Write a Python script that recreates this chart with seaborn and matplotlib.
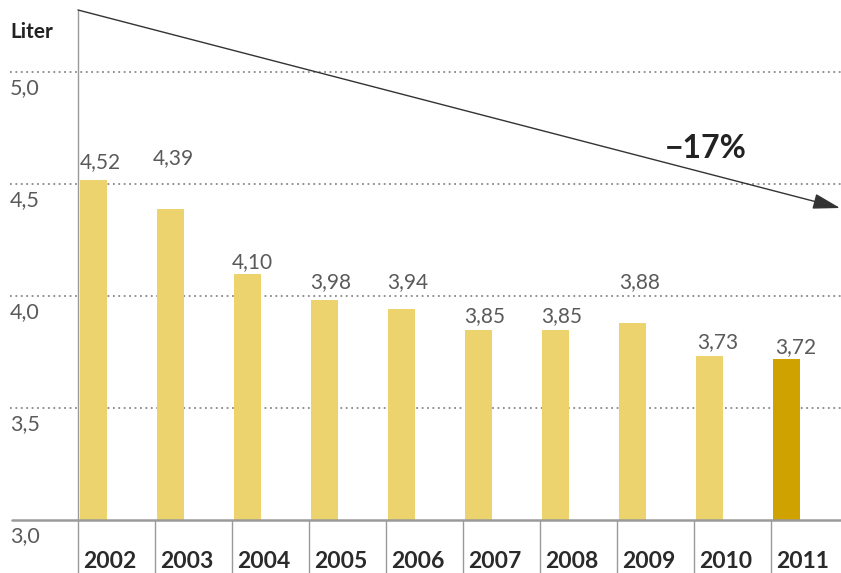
import matplotlib
matplotlib.use("Agg")
import matplotlib.pyplot as plt
import seaborn as sns
import pandas as pd

# ---- data ----
years = ["2002", "2003", "2004", "2005", "2006", "2007", "2008", "2009", "2010", "2011"]
liters = [4.52, 4.39, 4.10, 3.98, 3.94, 3.85, 3.85, 3.88, 3.73, 3.72]
value_labels = ["4,52", "4,39", "4,10", "3,98", "3,94", "3,85", "3,85", "3,88", "3,73", "3,72"]
ytick_values = [3.0, 3.5, 4.0, 4.5, 5.0]
ytick_labels = ["3,0", "3,5", "4,0", "4,5", "5,0"]
unit_label = "Liter"
change_label = "\u221217%"

# ---- layout / style ----
W, H = 841, 573
PX_PER_UNIT = 224.0       # vertical pixels per liter
SLOT_PX = 77.0            # horizontal pixels per year slot
BASE_PX = 520.0           # pixel row of the 3.0 baseline
LEFT_PX = 78.0            # pixel column of first slot edge
SLOT_OFF = 0.2            # slot left edge relative to bar center
label_lift = [0.078, 0.226, 0.052, 0.083, 0.123, 0.061, 0.061, 0.183, 0.065, 0.052]
label_dx_px = [2, -2, 0, 1, 1, 1, 1, 2, 3, 4]
light = "#EDD36E"
dark = "#CFA200"
grey_text = "#5a5a5a"
line_grey = "#9a9a9a"

def px_to_x(px):
    return -SLOT_OFF + (px - LEFT_PX) / SLOT_PX

def py_to_y(py):
    return 3.0 + (BASE_PX - py) / PX_PER_UNIT

sns.set_theme(style="white")
plt.rcParams["font.family"] = ["Lato", "DejaVu Sans"]

fig = plt.figure(figsize=(W / 100, H / 100), dpi=100)
ax = fig.add_axes([0, 0, 1, 1])

df = pd.DataFrame({"year": years, "liter": liters})
palette = [light] * (len(years) - 1) + [dark]
sns.barplot(data=df, x="year", y="liter", hue="year", palette=palette,
            width=0.36, legend=False, ax=ax, saturation=1)

# bars start at the 3.0 baseline
for p in ax.patches:
    h = p.get_height()
    p.set_y(3.0)
    p.set_height(h - 3.0)
    p.set_edgecolor("none")

ax.set_xlim(px_to_x(0), px_to_x(W))
ax.set_ylim(py_to_y(H), py_to_y(0))
ax.axis("off")

x0, x1 = px_to_x(10), px_to_x(W)
# dotted gridlines
for v in ytick_values[1:]:
    ax.plot([x0, x1], [v, v], linestyle=(0, (1, 2.0)), color="#888888", lw=1.3, zorder=0)
# baseline
ax.plot([px_to_x(12), x1], [3.0, 3.0], color=line_grey, lw=1.8, zorder=3)

# y tick labels (below their lines)
for v, t in zip(ytick_values, ytick_labels):
    ax.text(px_to_x(10), v - 16 / PX_PER_UNIT, t, ha="left", va="center",
            fontsize=15.5, color=grey_text)

ax.text(px_to_x(10), py_to_y(32), unit_label, ha="left", va="center",
        fontsize=15, fontweight="bold", color="#222222")

# slot dividers and year labels
for i, y in enumerate(years):
    left = i - SLOT_OFF
    top = py_to_y(10) if i == 0 else 3.0
    ax.plot([left, left], [py_to_y(H), top], color=line_grey, lw=1.0, zorder=2)
    ax.text(left + 5 / SLOT_PX, py_to_y(561), y, ha="left", va="center",
            fontsize=16.5, fontweight="bold", color="#2a2a2a")

# value labels
for i, (v, t, lift, dx) in enumerate(zip(liters, value_labels, label_lift, label_dx_px)):
    ax.text(i - SLOT_OFF + dx / SLOT_PX, v + lift, t, ha="left", va="center",
            fontsize=15, color=grey_text)

# trend arrow
ax.annotate("", xy=(px_to_x(840), py_to_y(208)), xytext=(px_to_x(78), py_to_y(10)),
            arrowprops=dict(arrowstyle="-|>,head_length=1.4,head_width=0.4",
                            color="#333333", lw=1.0, shrinkA=0, shrinkB=0))
ax.text(px_to_x(706), py_to_y(148), change_label, ha="center", va="center",
        fontsize=23, fontweight="bold", color="#222222")

fig.savefig("out.png", dpi=100)
